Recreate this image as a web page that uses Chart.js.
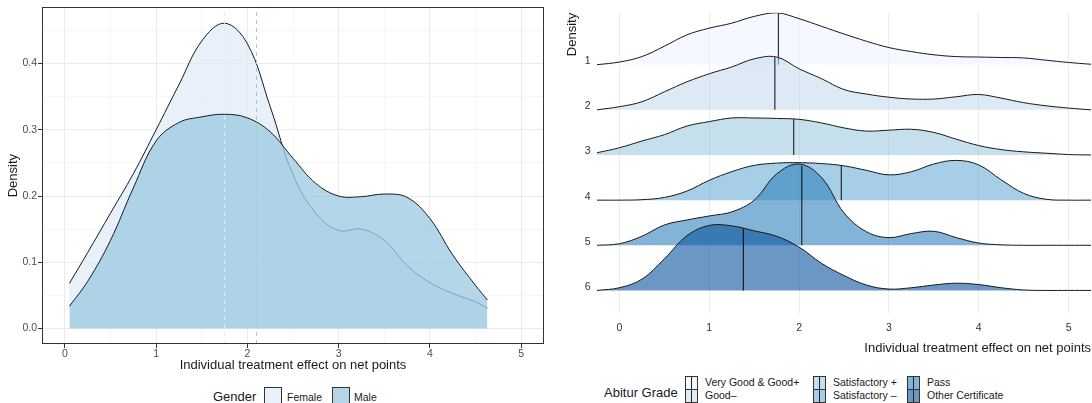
<!DOCTYPE html>
<html>
<head>
<meta charset="utf-8">
<script src="https://cdn.jsdelivr.net/npm/chart.js@4/dist/chart.umd.min.js"></script>
<style>
  body { margin: 0; background: #fff; width: 1092px; height: 403px; overflow: hidden; position: relative;
         font-family: "Liberation Sans", Arial, sans-serif; color: #1a1a1a; }
  canvas { position: absolute; top: 0; }
  #leftChart { left: 0; }
  #rightChart { left: 556px; }
  .lg { position: absolute; white-space: nowrap; line-height: 1; }
  .key { position: absolute; box-sizing: border-box; border: 1px solid #333; }
  .key i { position: absolute; left: 50%; top: 0; bottom: 0; width: 1px; margin-left: -0.5px; background: #222; }
</style>
</head>
<body>
<canvas id="leftChart" width="552" height="375"></canvas>
<canvas id="rightChart" width="536" height="360"></canvas>
<div id="legends"></div>
<script>
// tick labels
const effectTicks = ['0', '1', '2', '3', '4', '5'];
const densityTicks = ['0.0', '0.1', '0.2', '0.3', '0.4'];
const gradeTicks = ['1', '2', '3', '4', '5', '6'];

// left panel: density by gender
const genderNames = ['Female', 'Male'];
const genderX = [0.05, 0.25, 0.5, 0.75, 1, 1.25, 1.5, 1.75, 2, 2.25, 2.5, 2.75, 3, 3.25, 3.5, 3.75, 4, 4.25, 4.5, 4.63];
const femaleDensity = [0.068, 0.1145, 0.174, 0.2335, 0.300, 0.368, 0.434, 0.461, 0.430, 0.335, 0.232, 0.174, 0.148, 0.150, 0.133, 0.095, 0.069, 0.053, 0.040, 0.031];
const maleDensity = [0.0335, 0.071, 0.133, 0.212, 0.283, 0.311, 0.3195, 0.3235, 0.318, 0.297, 0.257, 0.219, 0.200, 0.199, 0.203, 0.198, 0.166, 0.111, 0.065, 0.043];
const genderMeans = [1.75, 2.1];

// right panel: ridges by Abitur grade (heights in ridge units)
const gradeNames = ['Very Good & Good+', 'Good–', 'Satisfactory +', 'Satisfactory –', 'Pass', 'Other Certificate'];
const ridgeX = [-0.25, 0, 0.25, 0.5, 0.75, 1, 1.25, 1.5, 1.75, 2, 2.25, 2.5, 2.75, 3, 3.25, 3.5, 3.75, 4, 4.25, 4.5, 4.75, 5, 5.25];
const ridge1 = [0.0, 0.06, 0.18, 0.41, 0.66, 0.81, 0.92, 1.07, 1.15, 1.02, 0.85, 0.68, 0.52, 0.38, 0.29, 0.22, 0.18, 0.17, 0.16, 0.15, 0.10, 0.05, 0.01];
const ridge2 = [0.0, 0.07, 0.18, 0.40, 0.62, 0.80, 0.95, 1.13, 1.17, 0.91, 0.69, 0.45, 0.35, 0.28, 0.24, 0.24, 0.29, 0.34, 0.26, 0.16, 0.09, 0.04, 0.0];
const ridge3 = [0.05, 0.16, 0.31, 0.45, 0.64, 0.74, 0.82, 0.82, 0.81, 0.79, 0.71, 0.60, 0.53, 0.55, 0.57, 0.50, 0.35, 0.21, 0.12, 0.07, 0.04, 0.01, 0.0];
const ridge4 = [0.0, 0.0, 0.01, 0.06, 0.20, 0.44, 0.63, 0.77, 0.82, 0.83, 0.81, 0.76, 0.66, 0.56, 0.63, 0.80, 0.88, 0.78, 0.45, 0.15, 0.02, 0.0, 0.0];
const ridge5 = [0.0, 0.035, 0.20, 0.45, 0.56, 0.65, 0.74, 1.0, 1.58, 1.80, 1.50, 0.72, 0.30, 0.17, 0.26, 0.31, 0.17, 0.05, 0.01, 0.0, 0.0, 0.0, 0.0];
const ridge6 = [0.0, 0.06, 0.25, 0.70, 1.21, 1.44, 1.43, 1.32, 1.20, 0.96, 0.60, 0.33, 0.12, 0.03, 0.06, 0.12, 0.16, 0.13, 0.06, 0.01, 0.0, 0.0, 0.0];
const gradeMedians = [1.77, 1.73, 1.94, 2.47, 2.03, 1.38];

const ridges = [ridge1, ridge2, ridge3, ridge4, ridge5, ridge6];
const blues = ['#eff3ff', '#c6dbef', '#9ecae1', '#6baed6', '#3182bd', '#08519c'];

Chart.defaults.font.family = '"Liberation Sans", Arial, sans-serif';
Chart.defaults.animation = false;
Chart.defaults.plugins.legend.display = false;
Chart.defaults.plugins.tooltip.enabled = false;

function rgba(hex, a) {
  const n = parseInt(hex.slice(1), 16);
  return 'rgba(' + (n >> 16) + ',' + ((n >> 8) & 255) + ',' + (n & 255) + ',' + a + ')';
}

function points(xs, ys, base) {
  return xs.map((x, i) => ({x: x, y: (base || 0) + ys[i]}));
}

function heightAt(xs, ys, m) {
  for (let i = 0; i < xs.length - 1; i++) {
    if (m >= xs[i] && m <= xs[i + 1]) {
      const t = (m - xs[i]) / (xs[i + 1] - xs[i]);
      return ys[i] + t * (ys[i + 1] - ys[i]);
    }
  }
  return 0;
}

// major ticks from labels, minor ticks half-way between
function withMinor(labels) {
  const vals = labels.map(parseFloat);
  const step = vals[1] - vals[0];
  const out = [];
  vals.forEach((v, i) => {
    out.push({value: v, text: labels[i]});
    out.push({value: v + step / 2, text: '', minor: true});
  });
  return out;
}

const panelBox = {
  id: 'panelBox',
  afterDraw(chart) {
    const a = chart.chartArea, ctx = chart.ctx;
    ctx.save();
    ctx.strokeStyle = '#333';
    ctx.lineWidth = 1;
    ctx.strokeRect(Math.round(a.left) + 0.5, Math.round(a.top) + 0.5, Math.round(a.right - a.left) - 1, Math.round(a.bottom - a.top) - 1);
    ctx.restore();
  }
};

const yMin = -0.0235, yMax = 0.485;
const genderFill = ['rgba(222,235,247,0.7)', 'rgba(158,202,225,0.78)'];
const meanColors = ['#deebf7', '#9ecae1'];
const smooth = 0.38;

new Chart(document.getElementById('leftChart'), {
  type: 'line',
  data: {
    datasets: [
      {data: [{x: genderMeans[0], y: yMin}, {x: genderMeans[0], y: yMax}], borderColor: meanColors[0], borderWidth: 1, borderDash: [4, 4], pointRadius: 0, order: 0},
      {data: [{x: genderMeans[1], y: yMin}, {x: genderMeans[1], y: yMax}], borderColor: meanColors[1], borderWidth: 1, borderDash: [4, 4], pointRadius: 0, order: 0},
      {label: genderNames[1], data: points(genderX, maleDensity), fill: 'origin', backgroundColor: genderFill[1],
       borderColor: '#1a1a1a', borderWidth: 1, pointRadius: 0, tension: smooth, order: 1},
      {label: genderNames[0], data: points(genderX, femaleDensity), fill: 'origin', backgroundColor: genderFill[0],
       borderColor: '#1a1a1a', borderWidth: 1, pointRadius: 0, tension: smooth, order: 2}
    ]
  },
  options: {
    responsive: false,
    layout: {padding: {left: 0, top: 7, right: 8, bottom: 0}},
    scales: {
      x: {
        type: 'linear', min: -0.25, max: 5.25,
        afterBuildTicks: s => { s.ticks = withMinor(effectTicks).filter(t => t.value <= 5.25); },
        afterFit: s => { s.height = 31; },
        ticks: {autoSkip: false, maxRotation: 0, padding: 0, color: '#4d4d4d', font: {size: 10.5},
                callback: (v, i, t) => t[i].text},
        grid: {
          color: c => c.tick && c.tick.minor ? '#f2f2f2' : '#ebebeb',
          lineWidth: c => c.tick && c.tick.minor ? 0.6 : 1,
          tickColor: c => c.tick && c.tick.minor ? 'rgba(0,0,0,0)' : '#333',
          tickLength: 4
        },
        border: {display: false},
        title: {display: true, text: 'Individual treatment effect on net points', color: '#1a1a1a',
                font: {size: 13}, padding: {top: 0, bottom: 1.5}}
      },
      y: {
        type: 'linear', min: yMin, max: yMax,
        afterBuildTicks: s => { s.ticks = withMinor(densityTicks); },
        afterFit: s => { s.width = 42; },
        ticks: {autoSkip: false, padding: 1, color: '#4d4d4d', font: {size: 10.5},
                callback: (v, i, t) => t[i].text},
        grid: {
          color: c => c.tick && c.tick.minor ? '#f2f2f2' : '#ebebeb',
          lineWidth: c => c.tick && c.tick.minor ? 0.6 : 1,
          tickColor: c => c.tick && c.tick.minor ? 'rgba(0,0,0,0)' : '#333',
          tickLength: 4
        },
        border: {display: false},
        title: {display: true, text: 'Density', color: '#1a1a1a', font: {size: 13}, padding: {top: 5.5, bottom: 0}}
      }
    }
  },
  plugins: [panelBox]
});

// ridgeline panel
const ridgeSets = [];
ridges.forEach((h, k) => {
  const base = ridges.length - 1 - k;
  ridgeSets.push({
    label: gradeNames[k], data: points(ridgeX, h, base), fill: {value: base},
    backgroundColor: rgba(blues[k], 0.6), borderColor: '#1a1a1a', borderWidth: 1,
    pointRadius: 0, tension: smooth, order: 20 - 2 * k
  });
  const m = gradeMedians[k];
  ridgeSets.push({
    data: [{x: m, y: base}, {x: m, y: base + heightAt(ridgeX, h, m)}],
    borderColor: 'rgba(0,0,0,0.8)', borderWidth: 1.2, pointRadius: 0, fill: false, order: 19 - 2 * k
  });
});

new Chart(document.getElementById('rightChart'), {
  type: 'line',
  data: {datasets: ridgeSets},
  options: {
    responsive: false,
    layout: {padding: {left: 0, top: 8, right: 1, bottom: 0}},
    scales: {
      x: {
        type: 'linear', min: -0.25, max: 5.25,
        afterBuildTicks: s => { s.ticks = effectTicks.map(t => ({value: parseFloat(t), text: t})); },
        afterFit: s => { s.height = 47; },
        ticks: {autoSkip: false, maxRotation: 0, padding: 9, color: '#333', font: {size: 10.5},
                callback: (v, i, t) => t[i].text},
        grid: {color: '#ebebeb', lineWidth: 1, drawTicks: false},
        border: {display: false},
        title: {display: true, align: 'end', text: 'Individual treatment effect on net points', color: '#1a1a1a',
                font: {size: 13}, padding: {top: 0, bottom: 3.5}}
      },
      y: {
        type: 'linear', min: -0.5, max: 6.15,
        afterBuildTicks: s => { s.ticks = gradeTicks.map((t, i) => ({value: gradeTicks.length - 1 - i, text: t})); },
        afterFit: s => { s.width = 41; },
        ticks: {autoSkip: false, padding: 6.5, labelOffset: -3.5, color: '#333', font: {size: 10.5},
                callback: (v, i, t) => t[i].text},
        grid: {display: false, drawTicks: false},
        border: {display: false},
        title: {display: true, align: 'end', text: 'Density', color: '#1a1a1a', font: {size: 13}, padding: {top: 8.5, bottom: 0}}
      }
    }
  }
});

// legends
const lg = document.getElementById('legends');
function addText(txt, x, cy, size) {
  const d = document.createElement('div');
  d.className = 'lg';
  d.textContent = txt;
  d.style.left = x + 'px';
  d.style.top = (cy - size / 2) + 'px';
  d.style.fontSize = size + 'px';
  lg.appendChild(d);
}
function addKey(x, y, w, h, fill, line) {
  const d = document.createElement('div');
  d.className = 'key';
  d.style.left = x + 'px'; d.style.top = y + 'px';
  d.style.width = w + 'px'; d.style.height = h + 'px';
  d.style.background = fill;
  if (line) d.appendChild(document.createElement('i'));
  lg.appendChild(d);
}

addText('Gender', 213, 396, 13);
addKey(264, 387, 18, 17, genderFill[0]);
addText(genderNames[0], 287, 397, 10.5);
addKey(332, 387, 18, 17, genderFill[1]);
addText(genderNames[1], 354, 397, 10.5);

addText('Abitur Grade', 604, 392, 13);
const colX = [685, 813, 907];
gradeNames.forEach((g, k) => {
  const col = Math.floor(k / 2), row = k % 2;
  addKey(colX[col], 376 + row * 13, 13, 14, rgba(blues[k], 0.6), true);
  addText(g, colX[col] + 20, 382.5 + row * 13, 10.5);
});
</script>
</body>
</html>
